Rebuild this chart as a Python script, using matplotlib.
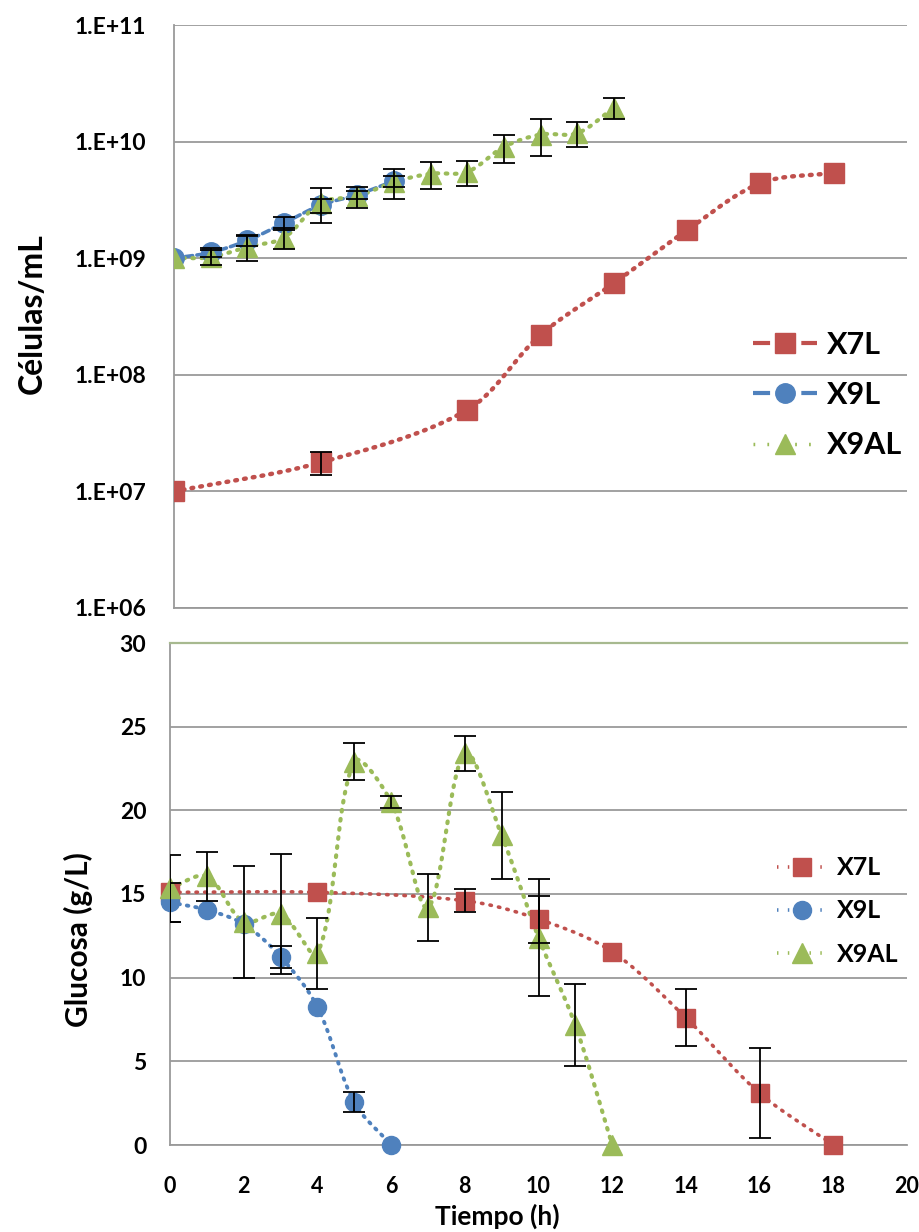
import numpy as np
import matplotlib
matplotlib.use("Agg")
import matplotlib.pyplot as plt
from matplotlib.lines import Line2D
from matplotlib.ticker import FixedLocator, NullLocator

# ---- data -------------------------------------------------------------
# cell counts (cells/mL)
t_x7l_cells = [0, 4, 8, 10, 12, 14, 16, 18]
x7l_cells = [1.0e7, 1.77e7, 5.0e7, 2.2e8, 6.1e8, 1.74e9, 4.4e9, 5.4e9]
x7l_cells_err = [0, 0.4e7, 0, 0, 0, 0, 0, 0]

t_x9l_cells = [0, 1, 2, 3, 4, 5, 6]
x9l_cells = [1.0e9, 1.12e9, 1.42e9, 2.0e9, 2.85e9, 3.5e9, 4.6e9]
x9l_cells_err = [0, 0.1e9, 0.15e9, 0.25e9, 0.4e9, 0.3e9, 0.5e9]

t_x9al_cells = [0, 1, 2, 3, 4, 5, 6, 7, 8, 9, 10, 11, 12]
x9al_cells = [1.0e9, 1.02e9, 1.25e9, 1.5e9, 3.0e9, 3.4e9, 4.5e9, 5.3e9,
              5.5e9, 9.0e9, 1.15e10, 1.18e10, 1.95e10]
x9al_cells_err = [0, 0.15e9, 0.3e9, 0.3e9, 1.0e9, 0.7e9, 1.3e9, 1.4e9,
                  1.3e9, 2.5e9, 4.0e9, 2.8e9, 4.0e9]

# glucose (g/L)
t_x7l_glu = [0, 4, 8, 10, 12, 14, 16, 18]
x7l_glu = [15.1, 15.1, 14.6, 13.5, 11.55, 7.6, 3.1, 0.0]
x7l_glu_err = [0, 0, 0.7, 1.4, 0, 1.7, 2.7, 0]

t_x9l_glu = [0, 1, 2, 3, 4, 5, 6]
x9l_glu = [14.5, 14.05, 13.2, 11.25, 8.25, 2.55, 0.0]
x9l_glu_err = [1.15, 0, 0, 0.65, 0, 0.6, 0]

t_x9al_glu = [0, 1, 2, 3, 4, 5, 6, 7, 8, 9, 10, 11, 12]
x9al_glu = [15.35, 16.05, 13.35, 13.8, 11.45, 22.9, 20.5, 14.2, 23.4,
            18.5, 12.4, 7.15, 0.0]
x9al_glu_err = [2.0, 1.45, 3.35, 3.6, 2.1, 1.1, 0.35, 2.0, 1.05, 2.6,
                3.5, 2.45, 0]

series_names = ["X7L", "X9L", "X9AL"]
cell_ticks = [1e6, 1e7, 1e8, 1e9, 1e10, 1e11]
cell_tick_labels = ["1.E+06", "1.E+07", "1.E+08", "1.E+09", "1.E+10", "1.E+11"]
glu_ticks = [0, 5, 10, 15, 20, 25, 30]
time_ticks = [0, 2, 4, 6, 8, 10, 12, 14, 16, 18, 20]

RED = "#C0504D"
BLUE = "#4F81BD"
GREEN = "#9BBB59"
GRID = "#9a9a9a"

plt.rcParams["font.family"] = ["Lato", "DejaVu Sans"]
plt.rcParams["font.weight"] = "bold"

W, H = 919, 1232


def smooth(x, y, kx, ky, n=40):
    """Smoothed line through the points: cubic Bezier segments whose
    control points follow the neighbouring chords (length weighted),
    computed in screen-like units so the curve keeps its shape."""
    X = np.asarray(x, float) * kx
    Y = np.asarray(y, float) * ky
    P = np.column_stack([X, Y])
    P = np.vstack([P[0], P, P[-1]])
    s = np.linspace(0, 1, n)[:, None]
    out = []
    for i in range(1, len(P) - 2):
        p_prev, p0, p1, p_next = P[i - 1], P[i], P[i + 1], P[i + 2]
        d_prev = np.hypot(*(p0 - p_prev))
        d_cur = np.hypot(*(p1 - p0))
        d_next = np.hypot(*(p_next - p1))
        f0 = d_cur / (d_prev + d_cur) / 3 if d_prev + d_cur > 0 else 0
        f1 = d_cur / (d_cur + d_next) / 3 if d_cur + d_next > 0 else 0
        c1 = p0 + (p1 - p_prev) * f0
        c2 = p1 - (p_next - p0) * f1
        b = (1 - s) ** 3 * p0 + 3 * (1 - s) ** 2 * s * c1 \
            + 3 * (1 - s) * s ** 2 * c2 + s ** 3 * p1
        out.append(b)
    b = np.vstack(out)
    return b[:, 0] / kx, b[:, 1] / ky


fig = plt.figure(figsize=(W / 100, H / 100), dpi=100)

# ---------------- top panel: cell concentration ----------------
ax1 = fig.add_axes([174 / W, 1 - 608 / H, (907 - 174) / W, (608 - 25) / H])
ax1.set_yscale("log")
ax1.set_ylim(1e6, 1e11)
ax1.set_xlim(0, 20)
kx_top = (907 - 174) / 20.0
ky_top = (608 - 25) / 5.0

top_specs = [
    (t_x7l_cells, x7l_cells, x7l_cells_err, RED, "s", 14, (0, (0.4, 1.6)), 3.2),
    (t_x9l_cells, x9l_cells, x9l_cells_err, BLUE, "o", 14, (0, (2.0, 1.2)), 2.6),
    (t_x9al_cells, x9al_cells, x9al_cells_err, GREEN, "^", 15, (0, (0.4, 1.8)), 3.0),
]
for t, v, e, col, mk, ms, ls, lw in top_specs:
    sx, sy = smooth(t, np.log10(v), kx_top, ky_top)
    ax1.plot(sx, 10 ** sy, color=col, ls=ls, lw=lw, dash_capstyle="round",
             solid_capstyle="round", zorder=3)
    ax1.plot(t, v, ls="none", marker=mk, ms=ms, color=col, mec=col, zorder=4)
    v = np.asarray(v)
    e = np.asarray(e)
    m = e > 0
    ax1.errorbar(np.asarray(t)[m], v[m], yerr=e[m], fmt="none", ecolor="black",
                 elinewidth=1.3, capsize=8, capthick=1.3, zorder=5)

ax1.yaxis.set_major_locator(FixedLocator(cell_ticks))
ax1.yaxis.set_minor_locator(NullLocator())
ax1.set_yticklabels(cell_tick_labels)
ax1.xaxis.set_major_locator(NullLocator())
ax1.tick_params(axis="y", length=0, pad=20, labelsize=16.5)
ax1.grid(axis="y", color=GRID, lw=1.3)
for side in ["top", "right"]:
    ax1.spines[side].set_visible(False)
for side in ["left", "bottom"]:
    ax1.spines[side].set_color(GRID)
    ax1.spines[side].set_linewidth(1.3)
ax1.set_ylabel("Células/mL", fontsize=23, fontweight="bold")
ax1.yaxis.set_label_coords(-0.174, 0.505)

top_handles = [
    Line2D([], [], color=RED, ls=(0, (4.1, 1.7)), lw=3, marker="s", ms=14),
    Line2D([], [], color=BLUE, ls=(0, (4.1, 1.7)), lw=3, marker="o", ms=14),
    Line2D([], [], color=GREEN, ls=(0, (0.5, 3.5)), lw=2.5, marker="^", ms=15),
]
ax1.legend(top_handles, series_names, loc="center left",
           bbox_to_anchor=(753 / W, 1 - 395 / H), bbox_transform=fig.transFigure,
           frameon=False, handlelength=2.1, handletextpad=0.33,
           labelspacing=0.73, borderaxespad=0, borderpad=0,
           prop={"weight": "bold", "size": 22})

# ---------------- bottom panel: glucose ----------------
ax2 = fig.add_axes([170 / W, 1 - 1145 / H, (907 - 170) / W, (1145 - 643) / H])
ax2.set_xlim(0, 20)
ax2.set_ylim(0, 30)
kx_bot = (907 - 170) / 20.0
ky_bot = (1145 - 643) / 30.0

bot_specs = [
    (t_x7l_glu, x7l_glu, x7l_glu_err, RED, "s", 13.5, (0, (0.4, 2.0)), 2.6),
    (t_x9l_glu, x9l_glu, x9l_glu_err, BLUE, "o", 13, (0, (0.4, 1.8)), 2.8),
    (t_x9al_glu, x9al_glu, x9al_glu_err, GREEN, "^", 14.5, (0, (0.4, 1.8)), 3.0),
]
for t, v, e, col, mk, ms, ls, lw in bot_specs:
    sx, sy = smooth(t, v, kx_bot, ky_bot)
    ax2.plot(sx, sy, color=col, ls=ls, lw=lw, dash_capstyle="round",
             zorder=3, clip_on=False)
    ax2.plot(t, v, ls="none", marker=mk, ms=ms, color=col, mec=col,
             zorder=4, clip_on=False)
    v = np.asarray(v)
    e = np.asarray(e)
    m = e > 0
    ax2.errorbar(np.asarray(t)[m], v[m], yerr=e[m], fmt="none", ecolor="black",
                 elinewidth=1.3, capsize=8, capthick=1.3, zorder=5)

ax2.set_yticks(glu_ticks)
ax2.set_xticks(time_ticks)
ax2.tick_params(axis="y", length=0, pad=17, labelsize=16.5)
ax2.tick_params(axis="x", length=0, pad=22, labelsize=15.5)
ax2.grid(axis="y", color=GRID, lw=1.3)
ax2.spines["right"].set_visible(False)
ax2.spines["top"].set_color("#a7b98f")
ax2.spines["top"].set_linewidth(1.6)
for side in ["left", "bottom"]:
    ax2.spines[side].set_color(GRID)
    ax2.spines[side].set_linewidth(1.3)
ax2.set_ylabel("Glucosa (g/L)", fontsize=21.5, fontweight="bold")
ax2.yaxis.set_label_coords(-0.104, 0.41)
ax2.set_xlabel("Tiempo (h)", fontsize=19, fontweight="bold")
ax2.xaxis.set_label_coords(0.444, -0.117)

bot_handles = [
    Line2D([], [], color=RED, ls=(0, (0.4, 2.6)), lw=2.6, marker="s", ms=13),
    Line2D([], [], color=BLUE, ls=(0, (0.4, 2.6)), lw=2.6, marker="o", ms=13),
    Line2D([], [], color=GREEN, ls=(0, (0.4, 2.6)), lw=2.6, marker="^", ms=14),
]
ax2.legend(bot_handles, series_names, loc="center left",
           bbox_to_anchor=(777 / W, 1 - 911 / H), bbox_transform=fig.transFigure,
           frameon=False, handlelength=2.0, handletextpad=0.4,
           labelspacing=0.81, borderaxespad=0, borderpad=0,
           prop={"weight": "bold", "size": 18})

fig.savefig("out.png", dpi=100)
